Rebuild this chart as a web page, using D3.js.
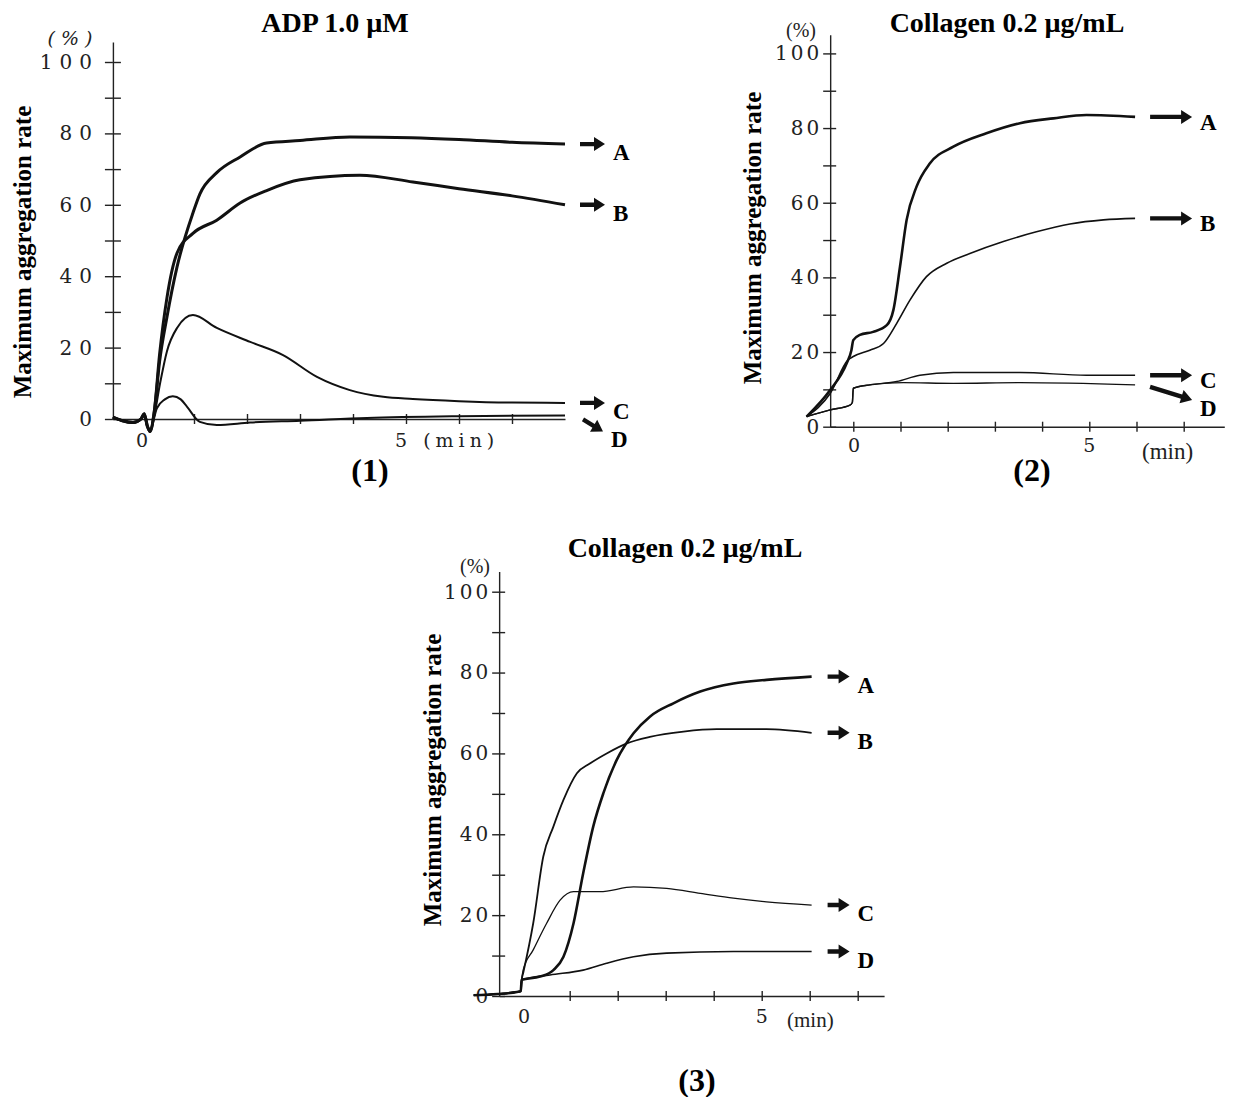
<!DOCTYPE html>
<html>
<head>
<meta charset="utf-8">
<script src="https://cdn.jsdelivr.net/npm/d3@7"></script>
<style>
  body { margin: 0; background: #fff; }
  svg { display: block; }
</style>
</head>
<body>
<div id="chart-container"></div>
<script>
// data: [minutes, % aggregation]
const p1A = [[-0.53,0.5],[-0.35,-0.5],[-0.15,-1],[0,0],[0.06,1.5],[0.12,-2],[0.17,-3.5],[0.25,2],[0.35,16],[0.49,28.6],[0.68,42.6],[0.98,57.7],[1.11,63],[1.43,69],[1.87,73.4],[2.37,77.3],[3,78],[3.94,79],[5.1,78.8],[6,78.3],[7,77.5],[8,77]];
const p1B = [[-0.53,0.5],[-0.35,-0.5],[-0.15,-1],[0,0],[0.06,1.5],[0.12,-2],[0.17,-3.5],[0.25,2],[0.35,18],[0.49,34],[0.68,46.5],[0.98,52],[1.43,55.7],[1.87,60.5],[2.37,64],[3,67],[4.13,68.3],[5.13,66.4],[6,64.5],[7,62.5],[8,60]];
const p1C = [[-0.53,0.5],[-0.35,-0.5],[-0.15,-1],[0,0],[0.06,1],[0.12,-2],[0.17,-3],[0.25,1],[0.36,10],[0.49,19],[0.68,25.5],[0.98,29.1],[1.43,25.5],[2.06,21.6],[2.68,17.9],[3.32,11.8],[3.94,8.1],[4.57,6.2],[5.13,5.6],[6,5],[7,4.6],[8,4.5]];
const p1D = [[-0.53,0.5],[-0.35,-0.5],[-0.15,-1],[0,0],[0.06,1],[0.12,-2],[0.17,-3],[0.3,3],[0.45,5.5],[0.6,6.4],[0.75,5.5],[0.87,3.4],[1.11,-0.8],[1.43,-1.7],[2.06,-1],[3,-0.5],[4.26,0.3],[6,0.8],[8,1]];

const p2A = [[-0.99,2.7],[-0.49,9.8],[-0.14,17],[-0.04,20.5],[0,23.2],[0.14,24.6],[0.42,25.4],[0.71,27.2],[0.85,31.3],[0.99,42.9],[1.13,55.4],[1.34,64.3],[1.62,70.5],[2.12,75],[2.82,78.6],[3.53,81.3],[4.24,82.6],[4.94,83.5],[5.97,83]];
const p2B = [[-0.99,2.7],[-0.49,8.9],[-0.11,17.9],[0,18.8],[0.35,20.5],[0.64,22.3],[0.92,27.7],[1.2,33.9],[1.55,40.2],[1.98,43.8],[2.47,46.4],[3.18,49.6],[3.88,52.2],[4.59,54.3],[5.3,55.4],[5.97,55.8]];
const p2C = [[-0.99,2.7],[-0.49,4.5],[-0.07,5.8],[-0.02,6.5],[0,10.3],[0.35,11.2],[0.92,12.1],[1.41,13.8],[2.12,14.5],[3.53,14.5],[4.94,13.8],[5.97,13.8]];
const p2D = [[-0.99,2.7],[-0.49,4.5],[-0.07,5.8],[-0.02,6.5],[0,10.3],[0.35,11.2],[1.06,11.8],[2.12,11.6],[3.53,11.8],[5.97,11.2]];

const p3A = [[-1,0.2],[-0.5,0.5],[-0.1,1],[-0.02,1.2],[0,4],[0.38,4.8],[0.66,6.4],[0.87,9.7],[1.08,18],[1.28,30.3],[1.49,41.9],[1.7,50.1],[1.98,58.4],[2.33,65],[2.67,69.1],[3.16,72.4],[3.72,75.3],[4.41,77.3],[5.1,78.2],[6.04,79]];
const p3B = [[-1,0.2],[-0.5,0.5],[-0.1,1],[-0.02,1.2],[0,4],[0.03,5.6],[0.24,18],[0.45,34.5],[0.66,41.9],[0.87,48.5],[1.15,55.1],[1.42,57.5],[1.77,60],[2.19,62.5],[2.67,64.1],[3.37,65.4],[4.06,66],[5.1,66],[6.04,65.1]];
const p3C = [[-1,0.2],[-0.5,0.5],[-0.1,1],[-0.02,1.2],[0,4],[0.03,6.4],[0.24,11.4],[0.52,18],[0.8,23.7],[1.08,25.8],[1.63,25.8],[2.33,27],[3.02,26.6],[3.72,25.4],[4.41,24.2],[5.1,23.3],[6.04,22.5]];
const p3D = [[-1,0.2],[-0.5,0.5],[-0.1,1],[-0.02,1.2],[0,4],[0.59,5.2],[1.28,6.4],[1.77,8.1],[2.33,9.7],[3.02,10.6],[4.41,11],[6.04,11]];

const seriesNames = ["A", "B", "C", "D"];
const yTickValues = [0, 10, 20, 30, 40, 50, 60, 70, 80, 90, 100];
const titles = ["ADP 1.0 \u00b5M", "Collagen 0.2 \u00b5g/mL", "Collagen 0.2 \u00b5g/mL"];
const panelTags = ["(1)", "(2)", "(3)"];

const W = 1236, H = 1097;
const serif = "'Liberation Serif', 'Times New Roman', serif";
const typo = "'DejaVu Serif', serif";

var svg = d3.select("#chart-container")
  .append("svg")
  .attr("width", W)
  .attr("height", H);

// layout of each panel (pixel position of t=0, y=0 and scale factors)
const panels = [
  { data: [p1A, p1B, p1C, p1D], widths: [3, 3, 2, 2],
    x0: 141, pxMin: 53, xa: [-0.53, 8.0], xTicks: [1,2,3,4,5,6,7],
    y0: 419, pxUnit: 3.57, yTop: 105.6, tickL: 8, tickR: 8,
    yLabelSpacing: 7, yLabelFont: 20, yPad: 13,
    pct: { x: 73, y: 45, size: 19, sp: 6 },
    xlab0: { x: 136, y: 447 }, xlab5: { x: 395, y: 447, text: "5 (min)", font: typo, size: 19, sp: 5 },
    title: { x: 335, y: 32 }, ylab: { x: 31, y: 252 }, tag: { x: 370, y: 481 },
    arrowDx: 15, arrowLen: 25, labOff: 16,
    dArrow: { dx: 18, dy: 4, ex: 38, ey: 16, ly: 447 } },
  { data: [p2A, p2B, p2C, p2D], widths: [2.6, 1.6, 1.4, 1.4],
    x0: 853.3, pxMin: 47.2, xa: [-0.49, 7.86], xTicks: [0,1,2,3,4,5,6,7],
    y0: 426.7, pxUnit: 3.733, yTop: 105, tickL: 7, tickR: 6,
    yLabelSpacing: 3, yLabelFont: 20, yPad: 4,
    pct: { x: 801, y: 37, size: 20, sp: 0 },
    xlab0: { x: 848, y: 452 }, xlab5: null,
    min: { x: 1142, y: 459, size: 23 },
    title: { x: 1007, y: 32 }, ylab: { x: 761, y: 238 }, tag: { x: 1032, y: 481 },
    arrowDx: 15, arrowLen: 42, labOff: 13,
    dArrow: { dx: 15, dy: 2, ex: 57, ey: 15, ly: 416 } },
  { data: [p3A, p3B, p3C, p3D], widths: [2.6, 1.8, 1.3, 1.6],
    x0: 521.7, pxMin: 48, xa: [-0.47, 7.55], xTicks: [1,2,3,4,5,6,7],
    y0: 996, pxUnit: 4.043, yTop: 105, tickL: 7, tickR: 6,
    yLabelSpacing: 3, yLabelFont: 20, yPad: 4,
    pct: { x: 475, y: 573, size: 20, sp: 0 },
    xlab0: { x: 518, y: 1023 }, xlab5: null,
    min: { x: 787, y: 1027, size: 21 },
    title: { x: 685, y: 557 }, ylab: { x: 441, y: 780 }, tag: { x: 697, y: 1091 },
    arrowDx: 16, arrowLen: 22, labOff: 16, dArrow: null }
];

// filled arrow from (x1,y1) to (x2,y2)
function arrowPath(x1, y1, x2, y2) {
  const a = Math.atan2(y2 - y1, x2 - x1);
  const L = Math.hypot(x2 - x1, y2 - y1);
  const head = 11, hw = 7, sw = 2.2;
  const pts = [[0, -sw], [L - head, -sw], [L - head, -hw], [L, 0], [L - head, hw], [L - head, sw], [0, sw]];
  return "M" + pts.map(p => {
    const px = x1 + p[0] * Math.cos(a) - p[1] * Math.sin(a);
    const py = y1 + p[0] * Math.sin(a) + p[1] * Math.cos(a);
    return px.toFixed(1) + "," + py.toFixed(1);
  }).join("L") + "Z";
}

panels.forEach((cfg, i) => {
  var x = d3.scaleLinear()
    .domain(cfg.xa)
    .range([cfg.x0 + cfg.xa[0] * cfg.pxMin, cfg.x0 + cfg.xa[1] * cfg.pxMin]);
  var y = d3.scaleLinear()
    .domain([0, cfg.yTop])
    .range([cfg.y0, cfg.y0 - cfg.yTop * cfg.pxUnit]);

  var g = svg.append("g");
  const xAxisY = cfg.y0;
  const yAxisX = x(cfg.xa[0]);

  // y axis: left ticks with labels, right ticks without
  var yl = g.append("g")
    .attr("transform", "translate(" + yAxisX + ",0)")
    .call(d3.axisLeft(y).tickValues(yTickValues).tickSizeInner(cfg.tickL).tickSizeOuter(0)
      .tickPadding(cfg.yPad).tickFormat(d => d % 20 === 0 ? d : ""));
  yl.selectAll("text")
    .style("font-family", typo)
    .style("font-size", cfg.yLabelFont + "px")
    .style("letter-spacing", cfg.yLabelSpacing + "px")
    .attr("dx", cfg.yLabelSpacing)
    .attr("fill", "#222");
  g.append("g")
    .attr("transform", "translate(" + yAxisX + ",0)")
    .call(d3.axisRight(y).tickValues(yTickValues).tickSizeInner(cfg.tickR).tickSizeOuter(0).tickFormat(""))
    .select(".domain").remove();

  // x axis: ticks crossing the line
  g.append("g")
    .attr("transform", "translate(0," + xAxisY + ")")
    .call(d3.axisBottom(x).tickValues(cfg.xTicks).tickSizeInner(5).tickSizeOuter(0).tickFormat(""));
  g.append("g")
    .attr("transform", "translate(0," + xAxisY + ")")
    .call(d3.axisTop(x).tickValues(cfg.xTicks).tickSizeInner(5).tickSizeOuter(0).tickFormat(""))
    .select(".domain").remove();

  g.selectAll(".domain, .tick line").attr("stroke", "#222").attr("stroke-width", 1.4);

  // x labels
  g.append("text").attr("x", cfg.xlab0.x).attr("y", cfg.xlab0.y)
    .style("font-family", typo).style("font-size", "19px").attr("fill", "#222").text("0");
  if (cfg.xlab5) {
    g.append("text").attr("x", cfg.xlab5.x).attr("y", cfg.xlab5.y)
      .style("font-family", cfg.xlab5.font).style("font-size", cfg.xlab5.size + "px")
      .style("letter-spacing", cfg.xlab5.sp + "px").attr("fill", "#222").text(cfg.xlab5.text);
  } else {
    g.append("text").attr("x", x(5)).attr("y", cfg.xlab0.y).attr("text-anchor", "middle")
      .style("font-family", typo).style("font-size", "19px").attr("fill", "#222").text("5");
    g.append("text").attr("x", cfg.min.x).attr("y", cfg.min.y)
      .style("font-family", serif).style("font-size", cfg.min.size + "px").attr("fill", "#222").text("(min)");
  }

  // (%) unit
  g.append("text").attr("x", cfg.pct.x).attr("y", cfg.pct.y).attr("text-anchor", "middle")
    .style("font-family", cfg.pct.sp ? typo : serif).style("font-size", cfg.pct.size + "px")
    .style("letter-spacing", cfg.pct.sp + "px")
    .style("font-style", cfg.pct.sp ? "italic" : "normal")
    .attr("fill", "#222").text("(%)");

  // title, y label, panel tag
  g.append("text").attr("x", cfg.title.x).attr("y", cfg.title.y).attr("text-anchor", "middle")
    .style("font-family", serif).style("font-weight", "bold").style("font-size", "28px")
    .text(titles[i]);
  g.append("text")
    .attr("transform", "translate(" + cfg.ylab.x + "," + cfg.ylab.y + ")rotate(-90)")
    .attr("text-anchor", "middle")
    .style("font-family", serif).style("font-weight", "bold").style("font-size", "25px")
    .text("Maximum aggregation rate");
  g.append("text").attr("x", cfg.tag.x).attr("y", cfg.tag.y).attr("text-anchor", "middle")
    .style("font-family", serif).style("font-weight", "bold").style("font-size", "32px")
    .text(panelTags[i]);

  // curves
  var line = d3.line()
    .x(d => x(d[0]))
    .y(d => y(d[1]))
    .curve(d3.curveMonotoneX);

  cfg.data.forEach((s, k) => {
    g.append("path")
      .datum(s)
      .attr("d", line)
      .attr("fill", "none")
      .attr("stroke", "#111")
      .attr("stroke-width", cfg.widths[k])
      .attr("stroke-linejoin", "round");

    // arrow + series letter at the end of the trace
    const last = s[s.length - 1];
    const ex = x(last[0]), ey = y(last[1]);
    let ax1, ay1, ax2, ay2, lx, ly;
    if (seriesNames[k] === "D" && cfg.dArrow) {
      ax1 = ex + cfg.dArrow.dx; ay1 = ey + cfg.dArrow.dy;
      ax2 = ex + cfg.dArrow.ex; ay2 = ey + cfg.dArrow.ey;
      lx = ax2 + 8; ly = cfg.dArrow.ly;
    } else {
      ax1 = ex + cfg.arrowDx; ay1 = ey;
      ax2 = ax1 + cfg.arrowLen; ay2 = ey;
      lx = ax2 + 8; ly = ey + cfg.labOff;
    }
    g.append("path").attr("d", arrowPath(ax1, ay1, ax2, ay2)).attr("fill", "#111");
    g.append("text").attr("x", lx).attr("y", ly)
      .style("font-family", serif).style("font-weight", "bold").style("font-size", "23px")
      .text(seriesNames[k]);
  });
});
</script>
</body>
</html>
